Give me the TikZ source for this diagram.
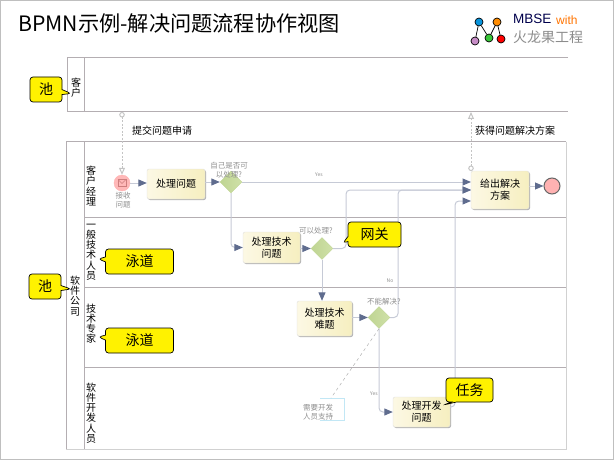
\documentclass[tikz,border=0pt]{standalone}
\usepackage{fontspec}
\setmainfont{Noto Sans CJK SC}
\newfontfamily\logofont{Liberation Sans}
\usetikzlibrary{arrows.meta}
\usetikzlibrary{shapes.geometric}
\usetikzlibrary{shapes.callouts}
\usetikzlibrary{shadows}
\definecolor{lanec}{HTML}{B4AEB2}
\definecolor{flowc}{HTML}{C6CAD6}
\definecolor{tipc}{HTML}{5F6C8E}
\definecolor{msgc}{HTML}{C4C4C4}
\definecolor{smallc}{HTML}{8E8E8E}
\definecolor{taskl}{HTML}{FCF8E4}
\definecolor{taskr}{HTML}{F6EFC0}
\definecolor{gatel}{HTML}{BFD592}
\definecolor{gater}{HTML}{CFE0A8}
\tikzset{
	lane/.style = {draw = lanec, line width = 1pt},
	paneltext/.style = {align = center, inner sep = 0pt, font = {\fontsize{10pt}{10.2pt}\selectfont}},
	small/.style = {align = center, inner sep = 0pt, text = smallc, font = {\fontsize{7.5pt}{9pt}\selectfont}},
	tiny/.style = {inner sep = 0pt, text = smallc, font = {\fontsize{5pt}{6pt}\selectfont}},
	note/.style = {inner sep = 0pt, font = {\fontsize{10pt}{12pt}\selectfont}},
	task/.style = {draw = black!12, rounded corners = 2pt, left color = taskl, right color = taskr, align = center, inner sep = 0pt, drop shadow = {shadow xshift = 1pt, shadow yshift = -1pt, fill = black!60, opacity = 0.5}, font = {\fontsize{10pt}{12pt}\selectfont}},
	gate/.style = {diamond, aspect = 1, draw = gatel, left color = gatel, right color = gater, minimum width = 22pt, minimum height = 22pt, inner sep = 0pt},
	flow/.style = {draw = flowc, line width = 1pt, rounded corners = 4pt, -{Triangle[length = 8.5pt, width = 7pt, color = tipc]}},
	msg/.style = {draw = msgc, line width = 1pt, dash pattern = on 2pt off 1.5pt, {Circle[open, length = 5.5pt, width = 5.5pt, fill = white, color = msgc]}-{Triangle[open, length = 7pt, width = 6pt, fill = white, color = msgc]}},
	tag/.style = {rectangle callout, draw = black, line width = 0.7pt, fill = yellow, rounded corners = 3pt, inner sep = 0pt, callout pointer width = 5pt, font = {\fontsize{14pt}{16pt}\selectfont}},
	dot/.style = {circle, draw = black, line width = 0.7pt, minimum size = 8pt, inner sep = 0pt}
}

\begin{document}
\begin{tikzpicture}[x = 1pt, y = -1pt]
\useasboundingbox (0,0) rectangle (614,460);
\draw[black!25, line width = 1pt] (0.5,0.5) rectangle (613.5,459.5);

\node[inner sep = 0pt, anchor = west, font = {\fontsize{21.2pt}{24pt}\selectfont}] (Title) at (18,23) {BPMN示例-解决问题流程协作视图};

% logo
\node[dot, fill = cyan!80!blue] (LogoA) at (479,22) {};
\node[dot, fill = orange!90!yellow] (LogoB) at (497,22) {};
\node[dot, fill = violet!45!white] (LogoC) at (475,41) {};
\node[dot, fill = green!55!gray] (LogoD) at (489,38) {};
\node[dot, fill = red] (LogoE) at (501,39) {};
\draw[line width = 0.7pt] (LogoC) -- (LogoA) -- (LogoD) -- (LogoB) -- (LogoE);
\node[inner sep = 0pt, anchor = west, font = {\logofont\fontsize{13.5pt}{15pt}\selectfont}, text = blue!30!black] (LogoName) at (513,19) {MBSE};
\node[inner sep = 0pt, anchor = west, font = {\logofont\fontsize{12pt}{15pt}\selectfont}, text = orange!90!red] (LogoWith) at (556,20) {with};
\node[inner sep = 0pt, anchor = west, font = {\fontsize{14pt}{16pt}\selectfont}, text = black!45] (LogoSub) at (513,37) {火龙果工程};

% pools and lanes
\draw[lane] (568,58) -- (67,58) -- (67,112) -- (568,112);
\draw[lane] (84,58) -- (84,112);
\draw[draw = black!18, line width = 1pt] (566,142) -- (566,449) -- (66,449);
\draw[lane] (566,142) -- (66,142) -- (66,449);
\draw[lane] (84,142) -- (84,449);
\draw[lane] (84,217.5) -- (566,217.5);
\draw[lane] (84,287) -- (566,287);
\draw[lane] (84,367.5) -- (566,367.5);

\node[paneltext] (PoolA) at (76,88) {客\\户};
\node[paneltext] (PoolB) at (75,296) {软\\件\\公\\司};
\node[paneltext] (LaneA) at (91,186) {客\\户\\经\\理};
\node[paneltext] (LaneB) at (91,252) {一\\般\\技\\术\\人\\员};
\node[paneltext] (LaneC) at (91,323.5) {技\\术\\专\\家};
\node[paneltext] (LaneD) at (91,413) {软\\件\\开\\发\\人\\员};

% events
\node[circle, draw = red!30!white, fill = red!28!white, minimum size = 16pt, inner sep = 0pt] (Start) at (122,183) {};
\draw[red!45!gray!70!white, line width = 0.6pt] (118,179.5) rectangle (126,186.5);
\draw[red!45!gray!70!white, line width = 0.6pt] (118,179.5) -- (122,183.5) -- (126,179.5);
\node[circle, draw = black!60, line width = 1pt, fill = red!30!white, minimum size = 16pt, inner sep = 0pt] (End) at (552,186) {};

% tasks and gateways
\node[task, minimum width = 58pt, minimum height = 30pt] (Handle) at (176,184) {处理问题};
\node[task, minimum width = 57pt, minimum height = 31pt] (Tech) at (271.5,247.5) {处理技术\\问题};
\node[task, minimum width = 55pt, minimum height = 35pt] (Hard) at (324.5,318.5) {处理技术\\难题};
\node[task, minimum width = 57pt, minimum height = 30pt] (Dev) at (421.5,412) {处理开发\\问题};
\node[task, minimum width = 58pt, minimum height = 38pt] (Fix) at (500,190) {给出解决\\方案};

\node[gate] (GateA) at (231,182) {};
\node[gate] (GateB) at (322,248.5) {};
\node[gate] (GateC) at (379,317.5) {};

\coordinate (AskOut) at (122,112);
\coordinate (FixOut) at (471,171);
\coordinate (FixUp) at (471,112);
\coordinate (FixYes) at (471,182);
\coordinate (FixBack) at (471,190);
\coordinate (FixDev) at (471,201);
\coordinate (TurnB) at (346,190);
\coordinate (TurnC) at (398,190);
\coordinate (TurnDev) at (455,201);
\coordinate (DevOut) at (450,407);

% note
\draw[black!12!cyan!25!white, line width = 1pt] (320,398) -- (344,398) -- (344,420.5) -- (320,420.5);
\coordinate (NoteTop) at (331,398);
\node[small] (Note) at (318,412) {需要开发\\人员支持};

% connectors
\draw[msg] (AskOut) -- (Start.north);
\draw[msg] (FixOut) -- (FixUp);
\draw[flow] (Start.east) -- (Start.east -| Handle.west);
\draw[flow] (Handle.east |- GateA.west) -- (GateA.west);
\draw[flow] (GateA.east) -- (FixYes);
\draw[flow] (GateA.south) |- (Tech.west);
\draw[flow] (Tech.east |- GateB.west) -- (GateB.west);
\draw[flow] (GateB.east) -| (TurnB) -- (FixBack);
\draw[flow] (GateB.south) -- (Hard.north -| GateB.south);
\draw[flow] (Hard.east |- GateC.west) -- (GateC.west);
\draw[flow] (GateC.east) -| (TurnC) -- (FixBack);
\draw[flow] (GateC.south) |- (Dev.west);
\draw[flow] (DevOut) -| (TurnDev) -- (FixDev);
\draw[flow] (Fix.east |- End.west) -- (End.west);
\draw[smallc!70!white, dashed, line width = 0.5pt] (GateC.south) -- (NoteTop);

% labels
\node[small] (StartText) at (123,200) {接收\\问题};
\node[small] (GateAText) at (229,170) {自己是否可\\以处理?};
\node[small] (GateBText) at (316,231) {可以处理?};
\node[small] (GateCText) at (384,302) {不能解决?};
\node[tiny] (YesA) at (319,175) {Yes};
\node[tiny] (NoB) at (390,281) {No};
\node[tiny] (YesC) at (374,394) {Yes};
\node[note, anchor = west] (AskText) at (132,131) {提交问题申请};
\node[note, anchor = west] (GetText) at (475,131) {获得问题解决方案};

% callouts
\node[tag, minimum width = 32pt, minimum height = 25pt, callout absolute pointer = {(71,93.5)}] (TagPoolA) at (46,89.5) {池};
\node[tag, minimum width = 32pt, minimum height = 25pt, callout absolute pointer = {(71,289)}] (TagPoolB) at (45,286.5) {池};
\node[tag, minimum width = 68pt, minimum height = 25pt, callout absolute pointer = {(98.5,259)}] (TagLaneA) at (139.5,261.5) {泳道};
\node[tag, minimum width = 68pt, minimum height = 25pt, callout absolute pointer = {(98.5,337)}] (TagLaneB) at (139.5,340.5) {泳道};
\node[tag, minimum width = 53pt, minimum height = 25pt, callout absolute pointer = {(343,243)}] (TagGate) at (374.5,234.5) {网关};
\node[tag, minimum width = 47pt, minimum height = 24pt, callout absolute pointer = {(443.5,405)}] (TagTask) at (469.5,390) {任务};
\end{tikzpicture}
\end{document}
